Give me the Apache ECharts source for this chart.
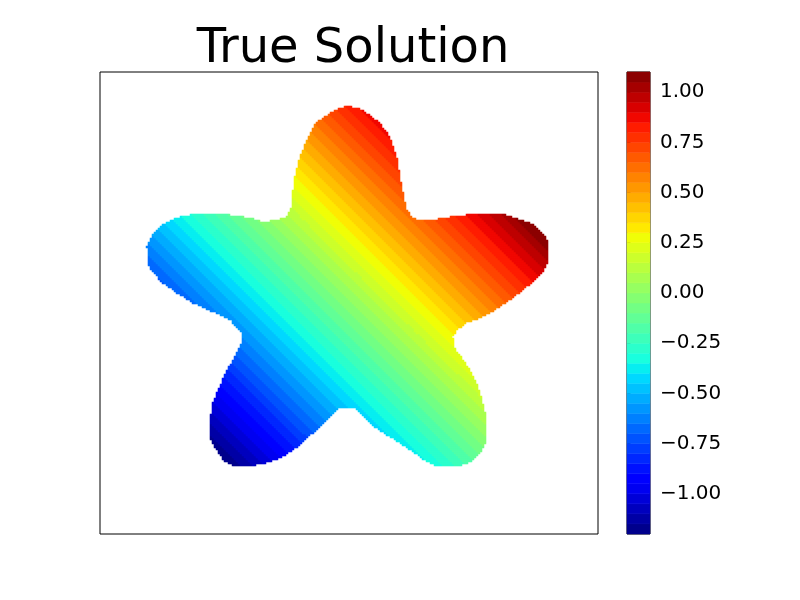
<!DOCTYPE html>
<html>
<head>
<meta charset="utf-8">
<script src="https://cdn.jsdelivr.net/npm/echarts@6/dist/echarts.min.js"></script>
<style>
  html, body { margin: 0; background: #fff; }
  #chart { width: 800px; height: 600px; }
</style>
</head>
<body>
<div id="chart"></div>
<script>
// ---- data ----
const titleText = 'True Solution';

// star outline, data units (x right, y up), centre near (0, 0)
const outlineX = [0.00, 0.12, 0.22, 0.32, 0.42, 0.49, 0.52, 0.56, 0.59, 0.64, 0.70, 0.85, 1.02, 1.19, 1.42, 1.59,
  1.79, 1.89, 1.95, 1.99, 2.01, 2.01, 1.98, 1.95, 1.85, 1.69, 1.52, 1.35, 1.19, 1.09, 1.05, 1.06, 1.12, 1.20,
  1.29, 1.34, 1.39, 1.39, 1.36, 1.32, 1.22, 1.12, 0.92, 0.79, 0.65, 0.52, 0.39, 0.27, 0.15, 0.07, -0.06, -0.11,
  -0.21, -0.35, -0.48, -0.65, -0.81, -1.01, -1.15, -1.25, -1.33, -1.38, -1.38, -1.35, -1.30, -1.21, -1.13, -1.07,
  -1.06, -1.10, -1.18, -1.35, -1.55, -1.71, -1.85, -1.95, -2.00, -2.01, -1.95, -1.88, -1.81, -1.68, -1.58, -1.18,
  -0.98, -0.85, -0.71, -0.61, -0.58, -0.55, -0.55, -0.53, -0.48, -0.41, -0.33, -0.18, -0.08];
const outlineY = [1.97, 1.94, 1.88, 1.80, 1.66, 1.46, 1.26, 1.06, 0.93, 0.86, 0.83, 0.83, 0.86, 0.88, 0.89, 0.88,
  0.81, 0.76, 0.70, 0.63, 0.56, 0.43, 0.36, 0.31, 0.21, 0.08, -0.04, -0.14, -0.20, -0.27, -0.34, -0.44, -0.52, -0.64,
  -0.80, -0.97, -1.17, -1.34, -1.44, -1.50, -1.59, -1.63, -1.64, -1.59, -1.49, -1.40, -1.32, -1.24, -1.14, -1.04, -1.04, -1.07,
  -1.17, -1.30, -1.42, -1.54, -1.60, -1.64, -1.62, -1.57, -1.44, -1.34, -1.17, -1.00, -0.87, -0.67, -0.54, -0.42,
  -0.30, -0.25, -0.17, -0.09, 0.00, 0.10, 0.20, 0.30, 0.38, 0.56, 0.70, 0.77, 0.81, 0.86, 0.88, 0.88,
  0.85, 0.81, 0.83, 0.86, 0.93, 1.00, 1.13, 1.26, 1.46, 1.63, 1.80, 1.90, 1.95];

// contour levels shown on the colour bar
const levels = [-1.20, -1.15, -1.10, -1.05, -1.00, -0.95, -0.90, -0.85, -0.80, -0.75, -0.70, -0.65, -0.60, -0.55,
  -0.50, -0.45, -0.40, -0.35, -0.30, -0.25, -0.20, -0.15, -0.10, -0.05, 0.00, 0.05, 0.10, 0.15, 0.20, 0.25, 0.30,
  0.35, 0.40, 0.45, 0.50, 0.55, 0.60, 0.65, 0.70, 0.75, 0.80, 0.85, 0.90, 0.95, 1.00, 1.05, 1.10];
// where each level's band edge sits along the x + y direction
const edgeS = [-2.820, -2.701, -2.582, -2.463, -2.344, -2.225, -2.107, -1.988, -1.869, -1.750, -1.631, -1.512,
  -1.393, -1.274, -1.155, -1.037, -0.918, -0.799, -0.680, -0.561, -0.442, -0.323, -0.204, -0.085, 0.034, 0.152,
  0.271, 0.390, 0.509, 0.628, 0.747, 0.866, 0.985, 1.104, 1.222, 1.341, 1.460, 1.579, 1.698, 1.817, 1.936, 2.055,
  2.174, 2.292, 2.411, 2.530, 2.649];

const tickValues = [-1.00, -0.75, -0.50, -0.25, 0.00, 0.25, 0.50, 0.75, 1.00];

// sampling grid of the plot box (2px cells)
const nx = 249, ny = 231;
const xStart = -2.48, yStart = -2.31, cellSize = 0.02;

// ---- helpers ----
function inside(x, y) {
  let c = false;
  for (let i = 0, j = outlineX.length - 1; i < outlineX.length; j = i++) {
    const xi = outlineX[i], yi = outlineY[i], xj = outlineX[j], yj = outlineY[j];
    if ((yi > y) !== (yj > y) && x < (xj - xi) * (y - yi) / (yj - yi) + xi) c = !c;
  }
  return c;
}

function jet(t) {
  const seg = (pts) => {
    for (let i = 1; i < pts.length; i++) {
      if (t <= pts[i][0]) {
        const a = pts[i - 1], b = pts[i];
        return a[1] + (b[1] - a[1]) * (t - a[0]) / (b[0] - a[0]);
      }
    }
    return pts[pts.length - 1][1];
  };
  const r = seg([[0, 0], [0.35, 0], [0.66, 1], [0.89, 1], [1, 0.5]]);
  const g = seg([[0, 0], [0.125, 0], [0.375, 1], [0.64, 1], [0.91, 0], [1, 0]]);
  const b = seg([[0, 0.5], [0.11, 1], [0.34, 1], [0.65, 0], [1, 0]]);
  return 'rgb(' + Math.round(r * 255) + ',' + Math.round(g * 255) + ',' + Math.round(b * 255) + ')';
}

const vmin = levels[0], vmax = levels[levels.length - 1];
const bandColor = (k) => jet(((levels[k] + levels[k + 1]) / 2 - vmin) / (vmax - vmin));

// ---- build cells ----
const cells = [];
for (let j = 0; j < ny; j++) {
  const y = yStart + (j + 0.5) * cellSize;
  for (let i = 0; i < nx; i++) {
    const x = xStart + (i + 0.5) * cellSize;
    if (!inside(x, y)) continue;
    const s = x + y;
    let k = 0;
    while (k < edgeS.length - 2 && s >= edgeS[k + 1]) k++;
    cells.push([i, j, (levels[k] + levels[k + 1]) / 2]);
  }
}

const pieces = [];
const bars = [];
for (let k = 0; k < levels.length - 1; k++) {
  pieces.push({ gte: levels[k], lt: levels[k + 1], color: bandColor(k) });
  bars.push([levels[k], levels[k + 1], k]);
}

const xCats = [], yCats = [];
for (let i = 0; i < nx; i++) xCats.push(i);
for (let j = 0; j < ny; j++) yCats.push(j);

const fmt = (v) => (v < 0 ? '\u2212' : '') + Math.abs(v).toFixed(2);

const chart = echarts.init(document.getElementById('chart'), null, { renderer: 'canvas' });
chart.setOption({
  animation: false,
  backgroundColor: '#fff',
  title: {
    text: titleText,
    left: 348,
    top: 21,
    textAlign: 'center',
    textStyle: { fontFamily: 'DejaVu Sans', fontSize: 48, fontWeight: 'normal', color: '#000' }
  },
  grid: [
    { left: 100, top: 72, width: 498, height: 462, show: true, borderColor: '#000', borderWidth: 1, containLabel: false },
    { left: 627, top: 72, width: 23, height: 462, show: true, borderColor: '#000', borderWidth: 1, containLabel: false }
  ],
  xAxis: [
    { type: 'category', gridIndex: 0, data: xCats, show: false },
    { type: 'value', gridIndex: 1, min: 0, max: 1, show: false }
  ],
  yAxis: [
    { type: 'category', gridIndex: 0, data: yCats, show: false },
    {
      type: 'value', gridIndex: 1, min: vmin, max: vmax, position: 'right',
      splitLine: { show: false },
      axisLine: { show: false },
      axisTick: { show: true, length: 3.5, lineStyle: { color: '#000', width: 1 }, customValues: tickValues },
      axisLabel: {
        customValues: tickValues, formatter: fmt, margin: 10,
        fontFamily: 'DejaVu Sans', fontSize: 20, color: '#000'
      }
    }
  ],
  visualMap: {
    type: 'piecewise', show: false, seriesIndex: 0, dimension: 2, pieces: pieces
  },
  series: [
    {
      type: 'heatmap', xAxisIndex: 0, yAxisIndex: 0, data: cells,
      progressive: 0, itemStyle: { borderWidth: 0 }, emphasis: { disabled: true }
    },
    {
      type: 'custom', xAxisIndex: 1, yAxisIndex: 1, data: bars,
      renderItem: function (params, api) {
        const p0 = api.coord([0, api.value(0)]);
        const p1 = api.coord([1, api.value(1)]);
        const c = bandColor(api.value(2));
        return {
          type: 'rect',
          shape: { x: p0[0], y: p1[1], width: p1[0] - p0[0], height: p0[1] - p1[1] },
          style: { fill: c, stroke: c, lineWidth: 0.5 }
        };
      }
    }
  ]
});
</script>
</body>
</html>
